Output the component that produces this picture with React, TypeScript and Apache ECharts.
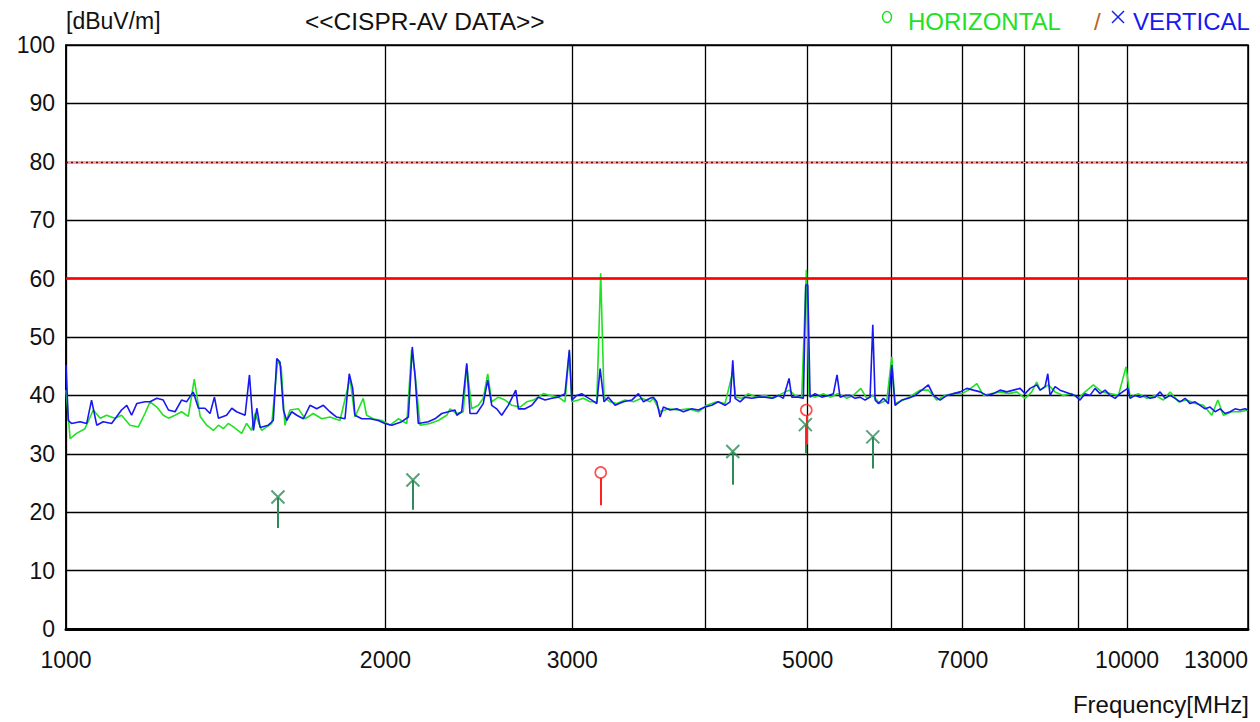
import React, { useEffect, useRef } from "react";
import * as echarts from "echarts";

// ---- data ----
const horizontalFreq = [1000,1009,1023,1042,1061,1077,1092,1112,1128,1149,1170,1187,1200,1218,1235,1249,1267,1285,1304,1321,1338,1357,1377,1392,1407,1422,1438,1464,1480,1496,1507,1529,1563,1583,1595,1608,1626,1656,1680,1710,1742,1773,1812,1852,1872,1906,1920,1948,1984,2020,2057,2095,2117,2133,2156,2203,2243,2285,2301,2335,2368,2386,2412,2447,2473,2497,2519,2555,2593,2631,2679,2718,2757,2818,2859,2911,2953,2981,2997,3040,3073,3118,3164,3191,3214,3256,3304,3364,3425,3488,3552,3577,3630,3696,3777,3860,3944,4016,4105,4179,4250,4277,4333,4396,4477,4558,4641,4727,4802,4865,4936,4986,5015,5081,5173,5249,5338,5423,5443,5521,5611,5684,5766,5842,5937,6001,6044,6154,6268,6381,6497,6617,6738,6860,6986,7087,7218,7322,7456,7591,7729,7871,8014,8131,8220,8279,8430,8553,8708,8868,8996,9128,9294,9466,9638,9813,9978,10065,10248,10437,10627,10820,10978,11178,11383,11590,11801,12018,12175,12324,12551,12779,13000];
const horizontalLevel = [40.9,32.6,33.5,34.3,37.5,36.1,36.6,36.1,36.6,34.9,34.6,36.9,38.9,38.0,36.6,36.1,36.6,37.2,36.4,42.8,36.4,34.9,34.0,34.9,34.3,35.2,34.6,33.5,35.2,34.0,36.9,34.0,35.2,46.0,44.9,34.9,37.5,37.7,36.0,36.9,36.0,36.3,35.7,42.9,36.3,39.5,36.6,36.0,35.7,34.9,36.0,35.2,47.8,43.7,34.9,35.2,35.7,36.6,37.7,36.9,37.2,45.2,37.7,38.3,39.5,43.7,38.9,39.7,39.2,38.3,38.0,38.9,39.2,40.3,40.0,39.7,38.9,47.5,38.9,39.2,39.5,38.9,38.9,60.9,39.7,38.9,38.6,39.2,38.9,39.5,38.9,39.5,37.2,37.7,37.5,37.7,37.2,38.3,38.9,38.6,44.0,39.7,39.5,40.3,39.7,40.0,39.5,40.3,40.9,40.0,39.7,61.5,40.0,39.7,40.3,39.7,40.3,39.7,39.5,40.0,41.2,39.5,40.0,38.6,39.2,46.6,38.6,39.2,40.0,40.9,40.9,39.2,40.0,40.3,40.3,40.9,42.0,40.0,40.3,40.6,40.3,40.6,39.5,40.6,42.3,40.9,41.8,40.6,40.0,40.3,39.5,40.6,41.8,40.6,40.3,40.0,44.9,39.7,40.3,39.5,40.0,39.2,40.6,38.9,39.2,38.6,38.3,36.6,39.2,36.6,37.2,37.2,37.5];

const verticalFreq = [1000,1005,1012,1031,1046,1057,1069,1084,1104,1128,1141,1153,1166,1187,1200,1218,1235,1249,1267,1285,1299,1318,1333,1352,1367,1380,1392,1417,1433,1448,1475,1489,1502,1513,1524,1551,1568,1580,1591,1603,1614,1632,1650,1674,1698,1723,1748,1773,1799,1832,1849,1863,1872,1900,1934,1969,1998,2028,2072,2102,2120,2133,2148,2195,2227,2260,2293,2326,2335,2360,2386,2403,2438,2473,2497,2519,2546,2574,2611,2654,2669,2708,2748,2787,2828,2869,2911,2953,2981,2997,3029,3062,3096,3130,3164,3187,3214,3244,3292,3352,3414,3463,3501,3552,3577,3604,3630,3656,3709,3764,3818,3888,3944,4002,4060,4119,4179,4225,4250,4271,4318,4365,4429,4492,4558,4625,4692,4743,4802,4830,4900,4954,4979,5001,5026,5081,5155,5230,5287,5329,5364,5423,5482,5542,5602,5663,5725,5759,5788,5829,5893,5957,6001,6044,6133,6221,6313,6405,6497,6569,6665,6763,6860,6961,7062,7164,7269,7376,7482,7591,7702,7813,7927,8014,8101,8220,8279,8369,8419,8461,8553,8646,8740,8835,8932,9029,9128,9227,9328,9430,9534,9638,9743,9849,9957,10015,10065,10175,10286,10398,10512,10627,10742,10860,10978,11098,11219,11341,11465,11590,11717,11844,11974,12104,12236,12370,12505,12641,12779,12918,13000];
const verticalLevel = [45.2,35.7,35.2,35.5,35.2,39.2,34.9,35.5,35.2,37.5,38.3,36.6,38.6,38.9,38.9,39.5,39.2,37.5,37.2,39.2,38.9,40.6,37.8,37.8,36.9,39.7,36.1,36.6,37.8,37.2,36.6,43.5,34.0,37.8,34.5,34.9,35.7,46.3,45.7,37.5,35.7,37.2,36.6,36.0,38.3,37.7,38.3,37.2,36.3,36.0,43.7,41.2,36.6,36.0,36.0,35.7,35.2,34.9,35.5,36.3,48.3,43.2,35.2,35.5,36.0,36.9,37.2,37.5,36.6,37.2,45.5,36.9,36.9,38.6,42.6,38.3,37.7,36.6,38.3,40.9,37.7,37.7,38.3,39.7,39.2,39.5,39.7,40.3,47.8,39.2,40.0,40.3,39.7,39.2,38.6,44.6,38.9,39.7,38.3,38.9,39.2,40.3,38.9,39.5,39.7,38.9,36.3,38.0,37.5,37.7,37.2,37.7,37.5,38.0,38.3,38.9,38.3,38.9,46.0,39.5,38.9,39.7,39.5,39.7,39.7,39.5,40.0,39.5,42.9,39.7,39.7,39.5,58.9,58.9,39.7,40.3,39.7,40.0,40.3,43.5,39.7,40.0,40.0,39.5,39.7,39.2,39.7,52.1,39.2,38.6,39.5,38.6,45.2,38.3,39.2,39.5,40.0,40.9,41.8,40.0,39.2,40.0,40.3,40.6,41.2,40.9,40.6,40.0,40.3,40.9,40.6,40.9,41.2,40.3,41.2,41.8,40.9,41.5,43.7,40.0,41.5,40.9,40.6,40.3,40.0,39.2,40.3,40.0,41.2,40.3,40.9,40.0,39.5,40.3,40.9,41.2,39.5,40.0,39.7,40.0,39.5,39.7,40.6,39.5,40.0,39.5,38.9,39.5,38.6,38.9,38.3,37.7,38.0,37.2,37.7,36.9,37.2,37.7,37.5,37.7,37.5];

// final measurement points (vertical = X markers, horizontal = circles)
const finalVFreq = [1584, 2123, 4250, 4975, 5759];
const finalVLevel = [22.6, 25.5, 30.4, 35.0, 32.9];
const finalVBase = [17.3, 20.4, 24.7, 30.1, 27.5];
const finalHFreq = [3191, 4985];
const finalHLevel = [26.8, 37.5];
const finalHBase = [21.2, 31.6];

const limitSolid = 60;
const limitDotted = 80;

const xLabelValues = [1000, 2000, 3000, 5000, 7000, 10000, 13000];
const xGridValues = [1000, 2000, 3000, 4000, 5000, 6000, 7000, 8000, 9000, 10000, 13000];

const FONT = '"Liberation Sans", Arial, Helvetica, sans-serif';
const GREEN = "#22e022";
const BLUE = "#1818f0";
const DARKGREEN = "#2e8b57";
const RED = "#ff2020";

const zip = (a: number[], b: number[]) => a.map((v, i) => [v, b[i]]);

function txt(text: string, x: number, y: number, fill: string, align = "left", size = 24) {
  return {
    type: "text",
    x,
    y,
    silent: true,
    style: { text, fill, fontSize: size, fontFamily: FONT, textAlign: align, textVerticalAlign: "middle" },
  };
}

export default function App() {
  const ref = useRef<HTMLDivElement>(null);
  useEffect(() => {
    document.body.style.margin = "0";
    const chart = echarts.init(ref.current!, null, { renderer: "svg" });
    const option: any = {
      animation: false,
      backgroundColor: "#ffffff",
      grid: {
        left: 66, right: 12, top: 45, bottom: 93,
        show: true, borderColor: "#000", borderWidth: 1.5,
        containLabel: false, outerBoundsMode: "none",
      },
      xAxis: {
        type: "log",
        logBase: 10,
        min: 1000,
        max: 13000,
        axisLine: { show: true, lineStyle: { color: "#000", width: 3 } },
        axisTick: { show: false, customValues: xGridValues },
        splitLine: { show: true, lineStyle: { color: "#000", width: 1.3 } },
        axisLabel: {
          customValues: xLabelValues,
          formatter: (v: number) => String(Math.round(v)),
          color: "#111",
          fontSize: 23,
          fontFamily: FONT,
          margin: 19,
          alignMaxLabel: "right",
        },
      },
      yAxis: {
        type: "value",
        min: 0,
        max: 100,
        interval: 10,
        axisLine: { show: true, lineStyle: { color: "#000", width: 1.5 } },
        axisTick: { show: false },
        splitLine: { show: true, lineStyle: { color: "#000", width: 1.3 } },
        axisLabel: { color: "#111", fontSize: 23, fontFamily: FONT, margin: 11 },
      },
      graphic: [
        txt("[dBuV/m]", 66, 21, "#111", "left", 23),
        txt("<<CISPR-AV DATA>>", 305, 21, "#111", "left", 24.5),
        { type: "ellipse", silent: true, shape: { cx: 887, cy: 17, rx: 4.5, ry: 5.5 }, style: { fill: "none", stroke: GREEN, lineWidth: 1.5 } },
        txt("HORIZONTAL", 908, 21, GREEN),
        txt("/", 1094, 21, "#b8651f"),
        { type: "line", silent: true, shape: { x1: 1112, y1: 11, x2: 1124, y2: 23 }, style: { stroke: BLUE, lineWidth: 1.4 } },
        { type: "line", silent: true, shape: { x1: 1124, y1: 11, x2: 1112, y2: 23 }, style: { stroke: BLUE, lineWidth: 1.4 } },
        txt("VERTICAL", 1133, 21, BLUE),
        txt("Frequency[MHz]", 1249, 704, "#111", "right"),
      ],
      series: [
        {
          name: "HORIZONTAL",
          type: "line",
          data: zip(horizontalFreq, horizontalLevel),
          showSymbol: false,
          lineStyle: { color: GREEN, width: 1.6 },
          z: 3,
          markLine: {
            silent: true,
            symbol: "none",
            label: { show: false },
            data: [
              { yAxis: limitDotted, lineStyle: { color: "#ff9a9a", width: 1.2, type: "solid" } },
              { yAxis: limitDotted, lineStyle: { color: "#5a1010", width: 1.4, type: [2, 3] } },
              { yAxis: limitSolid, lineStyle: { color: "#ff0000", width: 2.5, type: "solid" } },
            ],
          },
        },
        {
          name: "VERTICAL",
          type: "line",
          data: zip(verticalFreq, verticalLevel),
          showSymbol: false,
          lineStyle: { color: BLUE, width: 1.6 },
          z: 4,
        },
        {
          name: "finalV",
          type: "scatter",
          data: zip(finalVFreq, finalVLevel),
          symbol: "path://M0,0L10,10M10,0L0,10",
          symbolSize: 13,
          itemStyle: { color: "rgba(0,0,0,0)", borderColor: DARKGREEN, borderWidth: 2 },
          z: 6,
          markLine: {
            silent: true,
            symbol: "none",
            label: { show: false },
            lineStyle: { color: DARKGREEN, width: 2, type: "solid" },
            data: finalVFreq.map((f, i) => [{ coord: [f, finalVLevel[i]] }, { coord: [f, finalVBase[i]] }]),
          },
        },
        {
          name: "finalH",
          type: "scatter",
          data: zip(finalHFreq, finalHLevel),
          symbol: "circle",
          symbolSize: 11,
          itemStyle: { color: "rgba(0,0,0,0)", borderColor: RED, borderWidth: 1.6 },
          z: 7,
          markLine: {
            silent: true,
            symbol: "none",
            label: { show: false },
            lineStyle: { color: RED, width: 2, type: "solid" },
            data: finalHFreq.map((f, i) => [{ coord: [f, finalHLevel[i] - 0.95] }, { coord: [f, finalHBase[i]] }]),
          },
        },
      ],
    };
    chart.setOption(option);
    return () => chart.dispose();
  }, []);
  return <div ref={ref} style={{ width: 1260, height: 722 }} />;
}
